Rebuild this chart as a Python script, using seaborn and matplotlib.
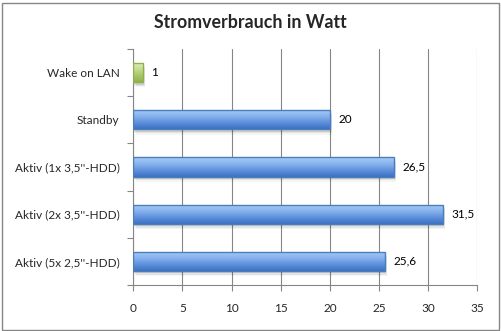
import numpy as np
import matplotlib
matplotlib.use("Agg")
import matplotlib.pyplot as plt
from matplotlib.colors import LinearSegmentedColormap
from matplotlib.patches import Rectangle
import seaborn as sns

# Power draw per operating mode (watts)
categories = ["Wake on LAN", "Standby", "Aktiv (1x 3,5''-HDD)",
              "Aktiv (2x 3,5''-HDD)", "Aktiv (5x 2,5''-HDD)"]
watts = [1, 20, 26.5, 31.5, 25.6]
value_labels = ["1", "20", "26,5", "31,5", "25,6"]
x_ticks = [0, 5, 10, 15, 20, 25, 30, 35]

sns.set_theme(style="white")
plt.rcParams["font.family"] = ["Lato", "DejaVu Sans"]

fig = plt.figure(figsize=(5.01, 3.31), dpi=100)
ax = fig.add_axes([133.3 / 501, 1 - 285 / 331, (477.3 - 133.3) / 501, (285 - 49) / 331])

bar_colors = ["#9bbb59"] + ["#4f81bd"] * 4
sns.barplot(x=watts, y=categories, hue=categories, palette=bar_colors,
            orient="h", width=0.41, legend=False, ax=ax, zorder=3)

blue_grad = LinearSegmentedColormap.from_list("b", ["#a9ccf9", "#88b3ef", "#5f92dc", "#3c71c4"])
green_grad = LinearSegmentedColormap.from_list("g", ["#e2efc9", "#c7dd93", "#a9c76a", "#92b24f"])
green_edge, blue_edge = "#8fb04a", "#4a7ebb"

ax.set_xlim(0, 35)
ax.set_ylim(4.5, -0.5)
grad = np.linspace(0, 1, 64).reshape(-1, 1)
bars = [p for p in list(ax.patches) if p.get_width() > 0]
for p in bars:
    x0, y0, w, h = p.get_x(), p.get_y(), p.get_width(), p.get_height()
    is_green = abs((y0 + h / 2) - 0) < 0.1
    # soft drop shadow
    for k, a in enumerate([0.10, 0.07, 0.04]):
        sh = Rectangle((x0 + 0.12 + 0.06 * k, y0 + 0.05 + 0.03 * k), w, h,
                       facecolor="black", edgecolor="none", alpha=a, zorder=2)
        ax.add_patch(sh)
    cmap = green_grad if is_green else blue_grad
    im = ax.imshow(grad, cmap=cmap, aspect="auto", origin="upper",
                   extent=(x0, x0 + w, y0 + h, y0), zorder=4, interpolation="bilinear")
    im.set_clip_path(p)
    p.set_edgecolor(green_edge if is_green else blue_edge)
    p.set_linewidth(1.0)
    p.set_zorder(5)
    p.set_facecolor("none")

ax.set_xlim(0, 35)
ax.set_ylim(4.5, -0.5)
for i, (v, lab) in enumerate(zip(watts, value_labels)):
    ax.annotate(lab, xy=(v, i), xytext=(6, 0), textcoords="offset points",
                ha="left", va="center", fontsize=8.5, color="black")

ax.set_xticks(x_ticks)
ax.set_xticklabels([str(t) for t in x_ticks], fontsize=8.5)
ax.set_yticks(range(len(categories)))
ax.set_yticklabels(categories, fontsize=8.5)
ax.set_yticks(np.arange(-0.5, 5, 1), minor=True)
ax.tick_params(axis="y", which="major", length=0, pad=10)
ax.tick_params(axis="y", which="minor", length=4, width=0.8, color="#868686", direction="out", left=True)
ax.tick_params(axis="x", which="major", length=4, width=0.8, color="#868686",
               direction="out", pad=9, bottom=True)
ax.set_xlabel("")
ax.set_ylabel("")

ax.grid(axis="x", color="#868686", linewidth=0.8, zorder=0)
ax.set_axisbelow(True)
for side in ["top", "right"]:
    ax.spines[side].set_visible(False)
for side in ["left", "bottom"]:
    ax.spines[side].set_color("#868686")
    ax.spines[side].set_linewidth(0.8)

fig.text(0.5, 1 - 23 / 331, "Stromverbrauch in Watt", ha="center", va="center",
         fontsize=12.8, fontweight="bold")

fig.patches.append(Rectangle((1.5 / 501, 1.5 / 331), 497 / 501, 327 / 331,
                             transform=fig.transFigure, fill=False,
                             edgecolor="#868686", linewidth=1.0))

fig.savefig("out.png", dpi=100)
